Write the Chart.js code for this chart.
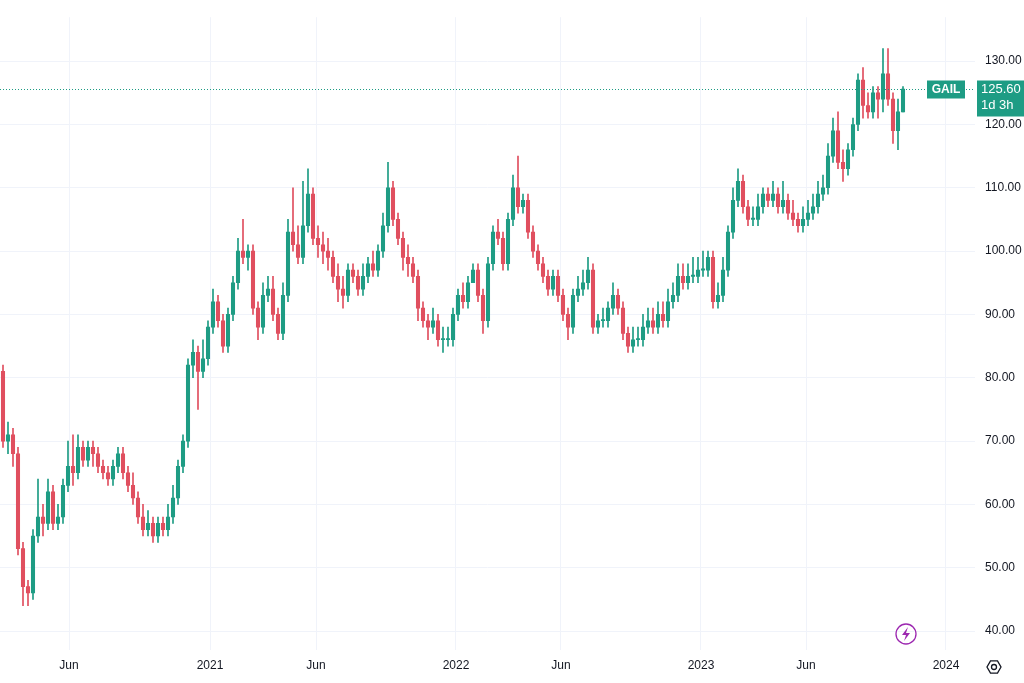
<!DOCTYPE html>
<html>
<head>
<meta charset="utf-8">
<script src="https://cdn.jsdelivr.net/npm/chart.js@4"></script>
<style>
  html, body { margin: 0; padding: 0; background: #fff; }
  #wrap { width: 1024px; height: 683px; }
</style>
</head>
<body>
<div id="wrap"><canvas id="GailChart"></canvas></div>
<script>
// Weekly candles, GAIL
var opens = [81,70,71,68,53,47,46,55,58,57,62,57,58,63,66,65,69,67,69,68,66,65,64,66,68,65,63,61,58,56,57,55,57,56,58,61,66,70,82,84,81,83,88,92,89,85,90,95,100,99,100,91,88,93,94,90,87,93,103,101,99,104,109,102,101,100,99,96,94,93,97,96,94,96,98,97,100,104,110,105,102,99,98,96,91,89,88,89,86,86,86,90,93,92,95,97,93,89,98,103,102,98,105,110,107,108,103,100,98,96,94,96,93,90,88,93,94,95,97,88,89,89,91,93,91,87,85,86,86,88,89,88,90,89,92,93,96,95,96,96,97,97,99,92,93,97,103,108,111,107,105,105,107,109,108,109,107,108,106,105,104,105,106,107,109,110,115,119,114,113,116,120,127,123,122,125,124,128,124,119,122];
var closes = [70,71,68,53,47,46,55,58,57,62,57,58,63,66,65,69,67,69,68,66,65,64,66,68,65,63,61,58,56,57,55,57,56,58,61,66,70,82,84,81,83,88,92,89,85,90,95,100,99,100,91,88,93,94,90,87,93,103,101,99,104,109,102,101,100,99,96,94,93,97,96,94,96,98,97,100,104,110,105,102,99,98,96,91,89,88,89,86,86,86,90,93,92,95,97,93,89,98,103,102,98,105,110,107,108,103,100,98,96,94,96,93,90,88,93,94,95,97,88,89,89,91,93,91,87,85,86,86,88,89,88,90,89,92,93,96,95,96,96,97,97,99,92,93,97,103,108,111,107,105,105,107,109,108,109,107,108,106,105,104,105,106,107,109,110,115,119,114,113,116,120,127,123,122,125,124,128,124,119,122,125.6];
var highs = [82,73,72,69,54,48,56,64,60,64,63,60,64,70,71,71,70,70,70,69,67,66,67,69,69,66,65,62,60,59,58,58,58,60,63,67,71,83,86,85,86,89,94,93,90,91,96,102,105,101,101,92,95,96,96,91,95,105,110,104,111,113,110,104,103,102,100,98,96,98,98,97,98,99,100,101,106,114,111,106,103,101,99,97,92,90,91,90,88,88,91,94,95,96,98,98,94,99,104,105,103,106,112,115,109,109,104,101,99,97,97,97,94,91,94,96,97,99,98,90,91,92,95,94,92,88,88,88,90,91,91,92,92,94,95,98,98,98,99,99,100,100,100,95,99,104,110,113,112,108,107,109,110,110,111,110,111,109,108,106,107,108,109,111,112,117,121,122,116,117,121,128,129,125,126,126,132,132,125,124,126];
var lows = [69,68,66,52,44,44,45,54,55,56,56,56,57,62,63,64,66,66,66,65,64,63,63,65,64,62,60,57,55,55,54,54,55,55,57,60,65,69,80,75,80,82,87,88,84,84,89,94,98,97,90,86,87,92,89,86,86,92,100,98,98,103,101,99,98,97,95,92,91,92,95,93,93,95,96,96,99,103,104,101,97,96,95,89,88,86,87,85,84,85,85,89,91,91,95,92,87,88,97,101,97,97,104,106,106,102,99,97,95,93,93,92,89,86,87,92,93,94,87,87,88,88,90,90,86,84,84,85,85,87,87,87,88,88,91,92,94,94,95,95,96,96,91,91,92,96,102,107,106,104,104,104,106,107,107,106,106,105,104,103,103,104,105,106,108,109,114,113,111,112,115,119,121,121,121,121,122,123,117,116,122];

var tick_labels = ['Jun', '2021', 'Jun', '2022', 'Jun', '2023', 'Jun', '2024'];
var tick_weeks = [13.2, 41.4, 62.6, 90.6, 111.6, 139.6, 160.6, 188.6];

var last_price = 125.6;
var symbol = 'GAIL';
var countdown = '1d 3h';

var up_color = '#1e9c84';
var down_color = '#e04f5f';

var wicks = [];
var bodies = [];
var colors = [];
for (var i = 0; i < closes.length; i++) {
  var o = opens[i], c = closes[i];
  if (Math.abs(o - c) < 0.2) { c = o + 0.2; }
  wicks.push({ x: i, y: [lows[i], highs[i]] });
  bodies.push({ x: i, y: [o, c] });
  colors.push(closes[i] >= opens[i] ? up_color : down_color);
}

//
// Last price line, labels and icons
var overlay = {
  id: 'overlay',
  afterDatasetsDraw: function(chart) {
    var ctx = chart.ctx;
    var yScale = chart.scales.y;
    var area = chart.chartArea;
    var py = Math.round(yScale.getPixelForValue(last_price)) + 0.5;

    ctx.save();
    ctx.strokeStyle = up_color;
    ctx.lineWidth = 1;
    ctx.setLineDash([1, 2]);
    ctx.beginPath();
    ctx.moveTo(0, py);
    ctx.lineTo(area.right, py);
    ctx.stroke();
    ctx.setLineDash([]);

    ctx.fillStyle = up_color;
    ctx.fillRect(927, py - 9, 38, 18);
    ctx.fillRect(977, py - 9, 47, 36);
    ctx.fillStyle = '#fff';
    ctx.font = 'bold 12px "Liberation Sans", Arial, sans-serif';
    ctx.textBaseline = 'middle';
    ctx.textAlign = 'center';
    ctx.fillText(symbol, 946, py);
    ctx.font = '13px "Liberation Sans", Arial, sans-serif';
    ctx.textAlign = 'left';
    ctx.fillText(last_price.toFixed(2), 981, py);
    ctx.fillText(countdown, 981, py + 16);

    // lightning icon
    ctx.strokeStyle = '#9c27b0';
    ctx.lineWidth = 1.3;
    ctx.beginPath();
    ctx.arc(906, 634, 10, 0, Math.PI * 2);
    ctx.stroke();
    ctx.fillStyle = '#9c27b0';
    ctx.beginPath();
    ctx.moveTo(908, 627); ctx.lineTo(902, 635); ctx.lineTo(906, 635);
    ctx.lineTo(904, 641); ctx.lineTo(910, 633); ctx.lineTo(906, 633);
    ctx.closePath();
    ctx.fill();

    // settings icon
    ctx.strokeStyle = '#131722';
    ctx.lineWidth = 1.3;
    ctx.beginPath();
    for (var k = 0; k < 6; k++) {
      var a = k * Math.PI / 3;
      var px = 994 + 7 * Math.cos(a), qy = 667 + 7 * Math.sin(a);
      if (k === 0) ctx.moveTo(px, qy); else ctx.lineTo(px, qy);
    }
    ctx.closePath();
    ctx.stroke();
    ctx.beginPath();
    ctx.arc(994, 667, 2.5, 0, Math.PI * 2);
    ctx.stroke();
    ctx.restore();
  }
};

var ctx = document.getElementById('GailChart').getContext('2d');
new Chart(ctx, {
  type: 'bar',
  data: {
    datasets: [{
      data: wicks,
      backgroundColor: colors,
      barThickness: 1,
      grouped: false,
      order: 2
    }, {
      data: bodies,
      backgroundColor: colors,
      barThickness: 3.4,
      grouped: false,
      order: 1
    }]
  },
  plugins: [overlay],
  options: {
    responsive: true,
    maintainAspectRatio: false,
    animation: false,
    layout: { padding: 0 },
    plugins: { legend: { display: false }, tooltip: { enabled: false } },
    scales: {
      x: {
        type: 'linear',
        offset: false,
        min: -0.6,
        max: 194.4,
        afterBuildTicks: function(axis) {
          axis.ticks = tick_weeks.map(function(v) { return { value: v }; });
        },
        ticks: {
          autoSkip: false,
          maxRotation: 0,
          color: '#131722',
          font: { family: '"Liberation Sans", Arial, sans-serif', size: 12 },
          padding: 8,
          callback: function(value, index) { return tick_labels[index]; }
        },
        grid: { color: '#f0f3fa', drawTicks: false, offset: false },
        border: { display: false },
        afterFit: function(axis) { axis.height = 33; }
      },
      y: {
        position: 'right',
        min: 37,
        max: 136.94,
        afterBuildTicks: function(axis) {
          var t = [];
          for (var v = 40; v <= 130; v += 10) t.push({ value: v });
          axis.ticks = t;
        },
        ticks: {
          color: '#131722',
          font: { family: '"Liberation Sans", Arial, sans-serif', size: 12 },
          padding: 10,
          callback: function(value) { return value.toFixed(2); }
        },
        grid: { color: '#f0f3fa', drawTicks: false },
        border: { display: false },
        afterFit: function(axis) { axis.width = 49; }
      }
    }
  }
});
</script>
</body>
</html>
